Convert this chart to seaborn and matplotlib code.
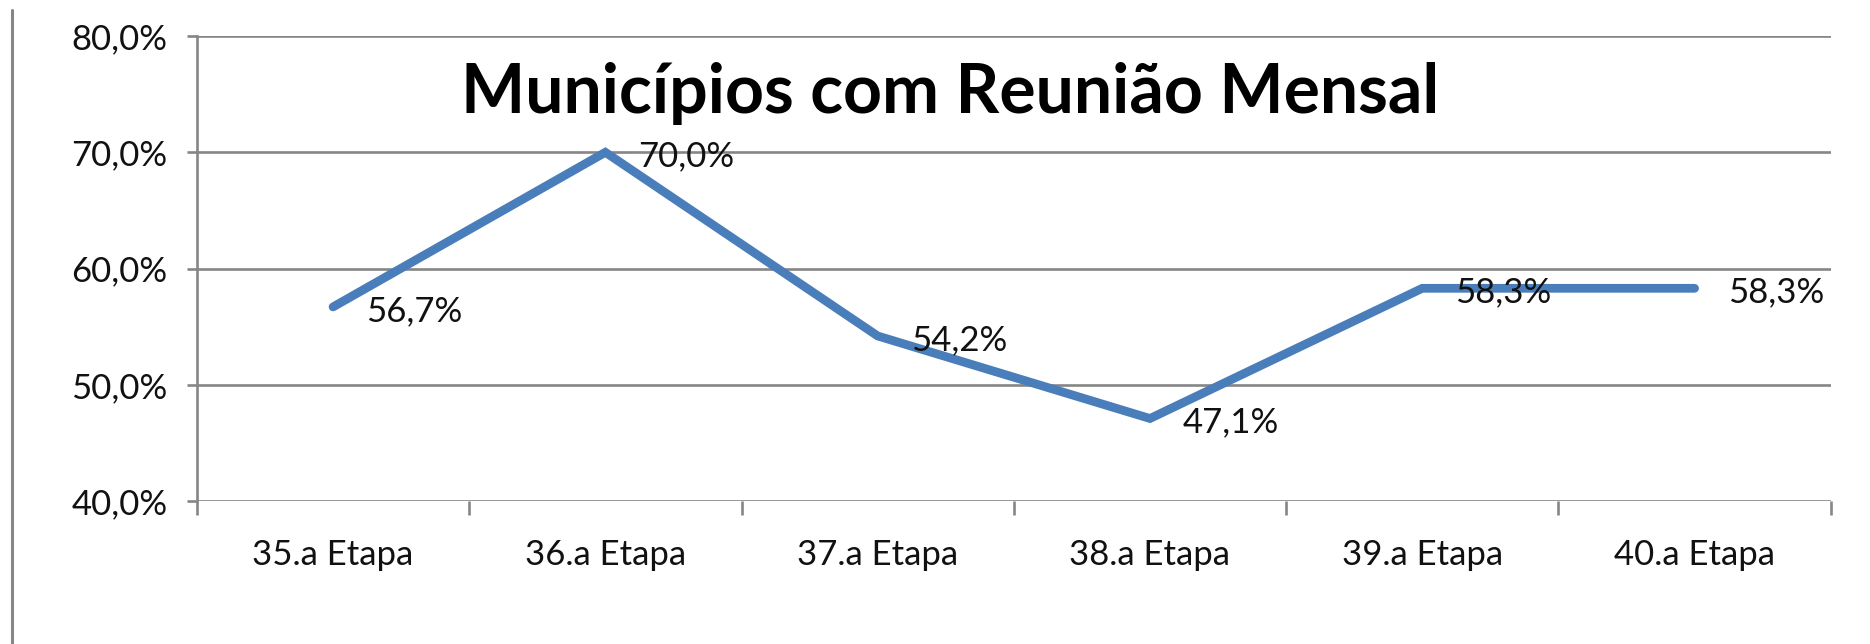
import matplotlib
matplotlib.use("Agg")
import matplotlib.pyplot as plt
from matplotlib.lines import Line2D
import numpy as np
import pandas as pd
import seaborn as sns

# data
etapas = ["35.a Etapa", "36.a Etapa", "37.a Etapa", "38.a Etapa", "39.a Etapa", "40.a Etapa"]
percentuais = [56.7, 70.0, 54.2, 47.1, 58.3, 58.3]
y_ticks = [40, 50, 60, 70, 80]

df = pd.DataFrame({"pos": np.arange(len(etapas)), "valor": percentuais})

sns.set_style("white")
plt.rcParams["font.family"] = ["Lato", "DejaVu Sans"]

fig = plt.figure(figsize=(18.7, 6.44), dpi=100)
ax = fig.add_axes([0.1053, 0.222, 0.8737, 0.722])

grid_col = "#868686"
line_col = "#4A7EBB"
txt_col = "#111111"
fs = 25

sns.lineplot(data=df, x="pos", y="valor", ax=ax, color=line_col,
             linewidth=6.3, solid_capstyle="round", solid_joinstyle="miter", zorder=3)

for i, v in enumerate(percentuais):
    ax.annotate(f"{v:.1f}%".replace(".", ","), (i, v), xytext=(33, -4),
                textcoords="offset pixels", ha="left", va="center",
                fontsize=fs, color=txt_col, zorder=4)

ax.set_xlim(-0.5, len(etapas) - 0.5)
ax.set_ylim(40, 80)
ax.set_yticks(y_ticks)
ax.set_yticklabels([f"{t},0%" for t in y_ticks], fontsize=fs, color=txt_col)
for t in y_ticks:
    ax.axhline(t, color=grid_col, linewidth=1.9, zorder=1)

# category boundaries as major ticks, labels on minor ticks
ax.set_xticks(np.arange(-0.5, len(etapas)), labels=[""] * (len(etapas) + 1))
ax.set_xticks(np.arange(len(etapas)), labels=etapas, minor=True)
ax.tick_params(axis="x", which="major", direction="out", length=10, width=1.9,
               color=grid_col, bottom=True)
ax.tick_params(axis="x", which="minor", length=0, pad=27, labelsize=fs,
               labelcolor=txt_col)
ax.tick_params(axis="y", direction="out", length=7, width=1.9, color=grid_col,
               left=True, pad=14)

ax.set_xlabel("")
ax.set_ylabel("")
for side in ["top", "right", "bottom"]:
    ax.spines[side].set_visible(False)
ax.spines["left"].set_color(grid_col)
ax.spines["left"].set_linewidth(1.9)

ax.text(0.461, 0.876, "Municípios com Reunião Mensal", transform=ax.transAxes,
        ha="center", va="center", fontsize=49, fontweight="bold", color="black")

# outer left border line
fig.add_artist(Line2D([0.0064, 0.0064], [0.0, 0.985], transform=fig.transFigure,
                      color=grid_col, linewidth=2.2))

fig.savefig("out.png", dpi=100, facecolor="white")
